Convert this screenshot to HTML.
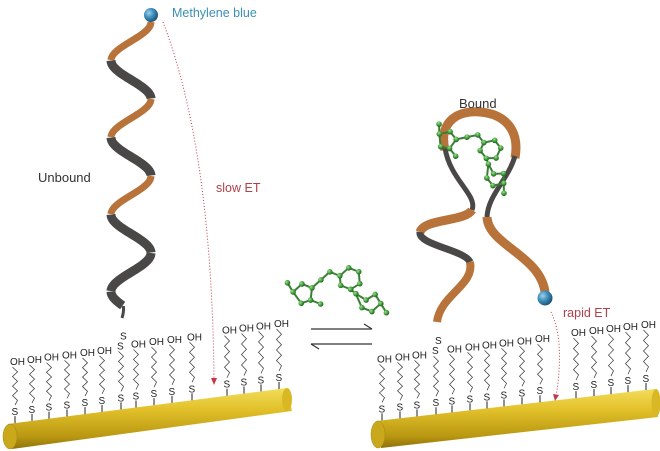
<!DOCTYPE html>
<html><head><meta charset="utf-8"><style>
html,body{margin:0;padding:0;background:#fff;width:660px;height:451px;overflow:hidden}
svg{display:block}
text{font-family:"Liberation Sans",sans-serif}
</style></head><body>
<svg id="s" width="660" height="451" viewBox="0 0 660 451" xmlns="http://www.w3.org/2000/svg">
<defs>
<linearGradient id="gold" x1="0" y1="0" x2="0" y2="1">
<stop offset="0" stop-color="#f3dc5a"/><stop offset="0.35" stop-color="#e2c12a"/><stop offset="0.8" stop-color="#b99712"/><stop offset="1" stop-color="#8f7208"/>
</linearGradient>
<radialGradient id="ball" cx="0.35" cy="0.35" r="0.7"><stop offset="0" stop-color="#9fd0ea"/><stop offset="0.5" stop-color="#3b8dbb"/><stop offset="1" stop-color="#1c4f6e"/></radialGradient>
<radialGradient id="gb" cx="0.35" cy="0.35" r="0.7"><stop offset="0" stop-color="#9be08f"/><stop offset="0.6" stop-color="#3f9a3a"/><stop offset="1" stop-color="#1f5a1c"/></radialGradient>
</defs>
<polygon points="8,424 287,388 292,411 12,449" fill="url(#gold)"/>
<ellipse cx="287" cy="399.5" rx="5" ry="11.5" fill="#d8b825"/>
<ellipse cx="10" cy="436.5" rx="7" ry="12.5" fill="#c9a81c" stroke="#a58812" stroke-width="0.5"/>
<polygon points="377,421 655,389 658,417 381,448" fill="url(#gold)"/>
<ellipse cx="656" cy="403" rx="4.5" ry="14" fill="#d8b825"/>
<ellipse cx="378" cy="434.5" rx="7" ry="13.5" fill="#c9a81c" stroke="#a58812" stroke-width="0.5"/>
<g id="chains"></g>
<g id="dna"></g>
<g fill="none" stroke-linecap="butt">
<path d="M445,150 C438,120 460,110 480,112 C505,114 520,130 515,158" stroke="#b8733a" stroke-width="9"/>
<path d="M445,148 C450,180 478,195 472,210" stroke="#4a4747" stroke-width="5"/>
<path d="M472,210 C465,222 425,218 420,232" stroke="#b8733a" stroke-width="9"/>
<path d="M420,232 C418,245 465,250 470,262" stroke="#4a4747" stroke-width="7"/>
<path d="M470,262 C475,285 440,295 437,322" stroke="#b8733a" stroke-width="8"/>
<path d="M515,156 C508,180 488,195 487,217" stroke="#4a4747" stroke-width="5"/>
<path d="M487,217 C488,245 540,255 545,292" stroke="#b8733a" stroke-width="9"/>
</g>
<g id="mol"></g>
<path d="M163,22 Q212,150 214,380" fill="none" stroke="#c23a4a" stroke-width="1" stroke-dasharray="1,2"/>
<polygon points="211,378 217,378 214,385" fill="#c23a4a"/>
<path d="M551,312 Q565,340 556,397" fill="none" stroke="#c23a4a" stroke-width="1" stroke-dasharray="1,2"/>
<polygon points="553,394 559,395 555,401" fill="#c23a4a"/>
<line x1="311" y1="329" x2="372" y2="329" stroke="#333" stroke-width="1.2"/>
<line x1="372" y1="329" x2="364" y2="324" stroke="#333" stroke-width="1.2"/>
<line x1="311" y1="344" x2="372" y2="344" stroke="#333" stroke-width="1.2"/>
<line x1="311" y1="344" x2="319" y2="349" stroke="#333" stroke-width="1.2"/>
<circle cx="151" cy="15" r="7" fill="url(#ball)"/>
<circle cx="545" cy="298" r="7.5" fill="url(#ball)"/>
<text x="172" y="17" font-size="12.5" fill="#3a8fb5">Methylene blue</text>
<text x="38" y="182" font-size="13" fill="#333">Unbound</text>
<text x="216" y="192" font-size="12.5" fill="#b0404a">slow ET</text>
<text x="459" y="108" font-size="13" fill="#333">Bound</text>
<text x="563" y="317" font-size="12.5" fill="#b0404a">rapid ET</text>
</svg>
<script>
var NS="http://www.w3.org/2000/svg";
function el(p,t,a,txt){var e=document.createElementNS(NS,t);for(var k in a)e.setAttribute(k,a[k]);if(txt)e.textContent=txt;p.appendChild(e);return e;}
var C=document.getElementById("chains");
function chain(x,top,len,dna){
  el(C,"line",{x1:x,y1:top,x2:x,y2:top-7,stroke:"#222","stroke-width":1});
  el(C,"text",{x:x-3.5,y:top-8,"font-size":10,fill:"#222"},"S");
  var y0=top-18,y1=top-18-len,d="M"+x+","+y0;var n=8;
  for(var i=1;i<=n;i++){d+=" L"+(x+(i%2?2.5:-2.5))+","+(y0-(y0-y1)*i/n);}
  el(C,"path",{d:d,fill:"none",stroke:"#333","stroke-width":0.7});
  if(dna){el(C,"text",{x:x-4,y:y1-2,"font-size":10,fill:"#222"},"S");el(C,"text",{x:x-1,y:y1-12,"font-size":10,fill:"#222"},"S");}
  else el(C,"text",{x:x-5,y:y1-2,"font-size":10,fill:"#222"},"OH");
}
function rodL(x){return 424-(x-8)*36/279;}
function rodR(x){return 421-(x-377)*32/278;}
[15,32,49,67,85,102,121,136,154,172,192,227,244,261,279].forEach(function(x,i){chain(x,rodL(x),i==6?40:(i<6?38:(i<11?40:42)),i==6);});
[382,400,417,436,452,470,487,504,522,540,576,594,611,628,646].forEach(function(x,i){chain(x,rodR(x),i==3?40:(i<3?38:(i<10?40:42)),i==3);});
var D=document.getElementById("dna");
var P=77,y0=22;
function X(y){var t=(y-y0)/P*2*Math.PI;return 131+20*Math.cos(t);}
for(var k=0;k<8;k++){
  var ys=y0+k*P/2,ye=Math.min(ys+P/2,306);if(ys>=306)break;
  var d="";for(var y=ys;y<=ye+0.01;y+=1){d+=(d?" L":"M")+X(y).toFixed(1)+","+y.toFixed(1);}
  var orange=(k%2==0)&&k<6;
  el(D,"path",{d:d,fill:"none",stroke:orange?"#b8733a":"#4a4747","stroke-width":orange?7:9,"stroke-linecap":"butt"});
}
el(D,"path",{d:"M"+X(306).toFixed(1)+",306 Q124,312 122,318",fill:"none",stroke:"#4a4747","stroke-width":3});
var M=document.getElementById("mol");
function mol(ox,oy,s,rot){var g=el(M,"g",{transform:"translate("+ox+","+oy+") rotate("+rot+") scale("+s+")"});
 var a=[[0,10],[8,4],[16,8],[14,18],[6,20],[24,2],[32,-4],[40,0],[48,-6],[56,-2],[56,8],[48,12],[40,8],[52,16],[60,22],[68,18],[72,26],[64,32],[56,28],[76,34],[-4,2],[22,22]];
 var b=[[0,1],[1,2],[2,3],[3,4],[4,0],[2,5],[5,6],[6,7],[7,8],[8,9],[9,10],[10,11],[11,12],[12,7],[11,13],[13,14],[14,15],[15,16],[16,17],[17,18],[18,13],[16,19],[0,20],[3,21]];
 b.forEach(function(q){el(g,"line",{x1:a[q[0]][0],y1:a[q[0]][1],x2:a[q[1]][0],y2:a[q[1]][1],stroke:"#3a7f35","stroke-width":2/s});});
 a.forEach(function(p){el(g,"circle",{cx:p[0],cy:p[1],r:2.8/s,fill:"url(#gb)"});});}
mol(292,280,1.2,-5);
mol(444,124,1.1,25);
</script>
</body></html>
